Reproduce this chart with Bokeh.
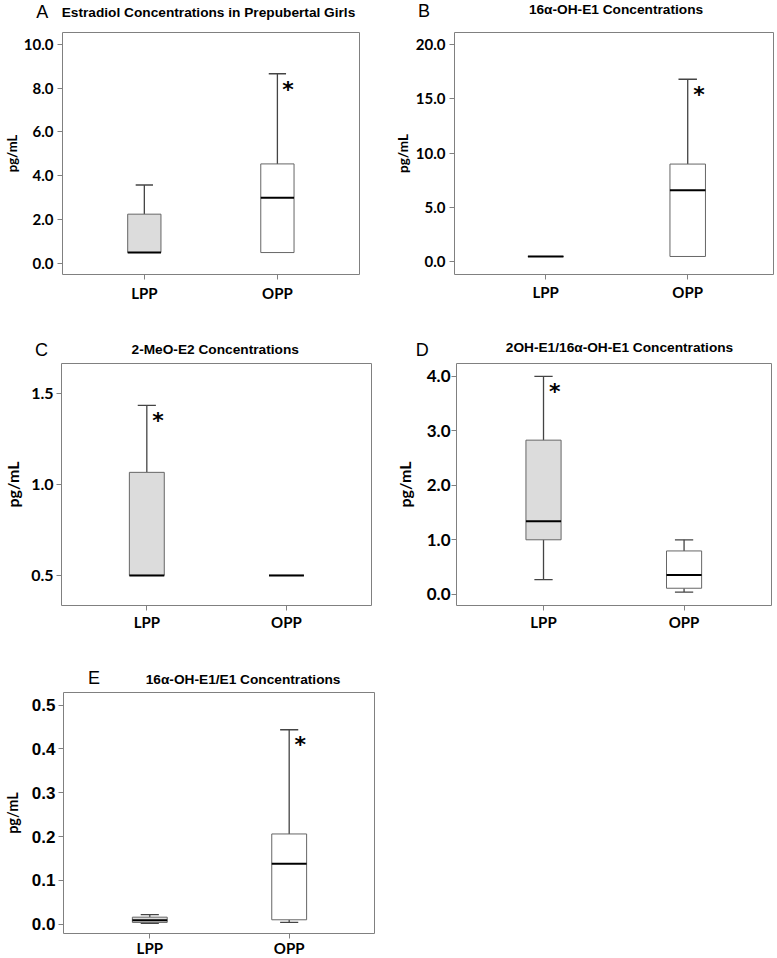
from bokeh.plotting import figure
from bokeh.models import Range1d, FixedTicker, PrintfTickFormatter, ColumnDataSource
from bokeh.layouts import column, row
from bokeh.embed import file_html
from bokeh.resources import INLINE
from bokeh.core.properties import value

# ---------------- data ----------------
groups = ["LPP", "OPP"]
group_pos = [1, 2]
group_fill = ["#dcdcdc", "#ffffff"]

a_title = "Estradiol Concentrations in Prepubertal Girls"
a_low = [0.5, 0.5]
a_q1 = [0.5, 0.5]
a_med = [0.5, 3.0]
a_q3 = [2.25, 4.54]
a_high = [3.58, 8.65]
a_ticks = [0, 2, 4, 6, 8, 10]
a_sig = "OPP"

b_title = "16\u03b1-OH-E1 Concentrations"
b_low = [0.5, 0.5]
b_q1 = [0.5, 0.5]
b_med = [0.5, 6.6]
b_q3 = [0.5, 9.0]
b_high = [0.5, 16.8]
b_ticks = [0, 5, 10, 15, 20]
b_sig = "OPP"

c_title = "2-MeO-E2 Concentrations"
c_low = [0.5, 0.5]
c_q1 = [0.5, 0.5]
c_med = [0.5, 0.5]
c_q3 = [1.068, 0.5]
c_high = [1.437, 0.5]
c_ticks = [0.5, 1.0, 1.5]
c_sig = "LPP"

d_title = "2OH-E1/16\u03b1-OH-E1 Concentrations"
d_low = [0.27, 0.04]
d_q1 = [1.0, 0.11]
d_med = [1.34, 0.355]
d_q3 = [2.83, 0.795]
d_high = [4.0, 1.0]
d_ticks = [0, 1, 2, 3, 4]
d_sig = "LPP"

e_title = "16\u03b1-OH-E1/E1 Concentrations"
e_low = [0.002, 0.004]
e_q1 = [0.004, 0.010]
e_med = [0.009, 0.138]
e_q3 = [0.016, 0.206]
e_high = [0.022, 0.444]
e_ticks = [0, 0.1, 0.2, 0.3, 0.4, 0.5]
e_sig = "OPP"

y_label = "pg/mL"

# ---------------- layout / style ----------------
FRAME_COLOR = "#808080"
BOX_LINE = "#666666"
WHISKER = "#444444"
BOX_W = 0.25
CAP_W = 0.13

# header = (x0, y0, w, h) strip holding panel letter + title; fig = (x0, y0, w, h); frame = (l, t, r, b)
panels = [
    dict(letter="A", title=a_title, data=(a_low, a_q1, a_med, a_q3, a_high), ticks=a_ticks, sig=a_sig,
         header=(0, 0, 391, 24), fig=(0, 24, 391, 298), frame=(58, 32, 359, 274),
         xr=(0.385, 2.617), yr=(-0.50, 10.53),
         tick_font="Lato", tick_size="15px", ylab_size="13px", ylab_stand=1, ytick_stand=4, xtick_stand=4,
         letter_pos=(41.7, 11.2), title_pos=(208, 12.3)),
    dict(letter="B", title=b_title, data=(b_low, b_q1, b_med, b_q3, b_high), ticks=b_ticks, sig=b_sig,
         header=(391, 0, 386, 24), fig=(391, 24, 386, 298), frame=(449, 24, 773, 280),
         xr=(0.358, 2.604), yr=(-1.157, 21.10),
         tick_font="Lato", tick_size="15px", ylab_size="13.5px", ylab_stand=2, ytick_stand=4, xtick_stand=3,
         letter_pos=(32.5, 10.5), title_pos=(224.5, 9)),
    dict(letter="C", title=c_title, data=(c_low, c_q1, c_med, c_q3, c_high), ticks=c_ticks, sig=c_sig,
         header=(0, 322, 391, 38), fig=(0, 360, 391, 285), frame=(58, 363, 371, 610),
         xr=(0.389, 2.609), yr=(0.334, 1.668),
         tick_font="Lato", tick_size="16px", ylab_size="16px", ylab_stand=6, ytick_stand=3, xtick_stand=2,
         letter_pos=(41, 27), title_pos=(214.7, 27.3)),
    dict(letter="D", title=d_title, data=(d_low, d_q1, d_med, d_q3, d_high), ticks=d_ticks, sig=d_sig,
         header=(391, 322, 386, 38), fig=(391, 360, 386, 285), frame=(456, 362, 771, 605),
         xr=(0.381, 2.622), yr=(-0.207, 4.238),
         tick_font="Lato", tick_size="17px", ylab_size="16px", ylab_stand=10, ytick_stand=1, xtick_stand=2,
         letter_pos=(30.7, 27), title_pos=(228, 24.7)),
    dict(letter="E", title=e_title, data=(e_low, e_q1, e_med, e_q3, e_high), ticks=e_ticks, sig=e_sig,
         header=(0, 645, 391, 45), fig=(0, 690, 391, 275), frame=(62, 692, 374, 933),
         xr=(0.381, 2.612), yr=(-0.0213, 0.529),
         tick_font="Liberation Sans", tick_size="17px", ylab_size="14.5px", ylab_stand=8, ytick_stand=3, xtick_stand=0,
         letter_pos=(38.3, 32.8), title_pos=(225.8, 34)),
]


def make_header(cfg):
    x0, y0, w, h = cfg["header"]
    p = figure(width=w, height=h, output_backend="svg", toolbar_location=None,
               x_range=Range1d(0, w), y_range=Range1d(h, 0),
               x_axis_location=None, y_axis_location=None, min_border=0)
    p.xgrid.visible = False
    p.ygrid.visible = False
    p.outline_line_color = None
    p.background_fill_color = "white"
    p.border_fill_color = "white"
    lx, ly = cfg["letter_pos"]
    p.text(x=[lx], y=[ly], text=[cfg["letter"]], text_font=value("Liberation Sans"),
           text_font_size="18px", text_align="center", text_baseline="alphabetic", text_color="black")
    tx, ty = cfg["title_pos"]
    p.text(x=[tx], y=[ty], text=[cfg["title"]], text_font=value("Liberation Sans"),
           text_font_style="bold", text_font_size="13.7px", text_align="center",
           text_baseline="alphabetic", text_color="black")
    return p


def make_panel(cfg):
    x0, y0, w, h = cfg["fig"]
    fl, ft, fr, fb = cfg["frame"]
    p = figure(width=w, height=h, output_backend="svg", toolbar_location=None,
               x_range=Range1d(*cfg["xr"]), y_range=Range1d(*cfg["yr"]),
               min_border_left=fl - x0, min_border_right=x0 + w - fr,
               min_border_top=ft - y0, min_border_bottom=y0 + h - fb)
    p.background_fill_color = "white"
    p.border_fill_color = "white"
    p.outline_line_color = FRAME_COLOR
    p.outline_line_width = 1
    p.xgrid.visible = False
    p.ygrid.visible = False

    xa = p.xaxis[0]
    ya = p.yaxis[0]
    for ax in (xa, ya):
        ax.axis_line_color = None
        ax.major_tick_line_color = FRAME_COLOR
        ax.major_tick_out = 5
        ax.major_tick_in = 0
        ax.minor_tick_line_color = None
        ax.major_label_text_color = "black"
        ax.major_label_text_font_style = "bold"
    xa.ticker = FixedTicker(ticks=group_pos)
    xa.major_label_overrides = {gp: g for gp, g in zip(group_pos, groups)}
    xa.major_label_text_font = "Lato"
    xa.major_label_text_font_size = "15px"
    xa.major_label_standoff = cfg["xtick_stand"]
    xa.axis_label_standoff = 0

    ya.ticker = FixedTicker(ticks=cfg["ticks"])
    ya.formatter = PrintfTickFormatter(format="%.1f")
    ya.major_label_text_font = cfg["tick_font"]
    ya.major_label_text_font_size = cfg["tick_size"]
    ya.major_label_standoff = cfg["ytick_stand"]
    ya.axis_label = y_label
    ya.axis_label_text_font = "Lato"
    ya.axis_label_text_font_style = "bold"
    ya.axis_label_text_font_size = cfg["ylab_size"]
    ya.axis_label_text_color = "black"
    ya.axis_label_standoff = cfg["ylab_stand"]

    low, q1, med, q3, high = cfg["data"]
    up = [(x, a, b) for x, a, b in zip(group_pos, q3, high) if b > a]
    dn = [(x, a, b) for x, a, b in zip(group_pos, q1, low) if b < a]
    for seg in (up, dn):
        if seg:
            src = ColumnDataSource(dict(
                x=[s[0] for s in seg], ya=[s[1] for s in seg], yb=[s[2] for s in seg],
                cl=[s[0] - CAP_W / 2 for s in seg], cr=[s[0] + CAP_W / 2 for s in seg]))
            p.segment(x0="x", y0="ya", x1="x", y1="yb", source=src, line_color=WHISKER, line_width=1.3)
            p.segment(x0="cl", y0="yb", x1="cr", y1="yb", source=src, line_color=WHISKER, line_width=1.3)
    box_src = ColumnDataSource(dict(x=group_pos, q1=q1, q3=q3, med=med, fill=group_fill,
                                    l=[g - BOX_W / 2 for g in group_pos], r=[g + BOX_W / 2 for g in group_pos]))
    p.vbar(x="x", bottom="q1", top="q3", width=BOX_W, fill_color="fill", line_color=BOX_LINE,
           line_width=1, source=box_src)
    p.segment(x0="l", y0="med", x1="r", y1="med", line_color="black", line_width=2, source=box_src)

    gi = groups.index(cfg["sig"])
    yr = cfg["yr"]
    star_src = ColumnDataSource(dict(x=[group_pos[gi] + 0.08],
                                     y=[high[gi] - 0.055 * (yr[1] - yr[0])], t=["*"]))
    p.text(x="x", y="y", text="t", source=star_src, text_font=value("DejaVu Sans"),
           text_font_style="bold", text_font_size="22px", text_align="center",
           text_baseline="alphabetic", y_offset=2, text_color="black")
    return p


heads = [make_header(c) for c in panels]
figs = [make_panel(c) for c in panels]
layout = column(row(heads[0], heads[1]), row(figs[0], figs[1]),
                row(heads[2], heads[3]), row(figs[2], figs[3]),
                heads[4], figs[4], margin=(0, 0, -7, 0))

open("out.html", "w").write(file_html(layout, INLINE))
